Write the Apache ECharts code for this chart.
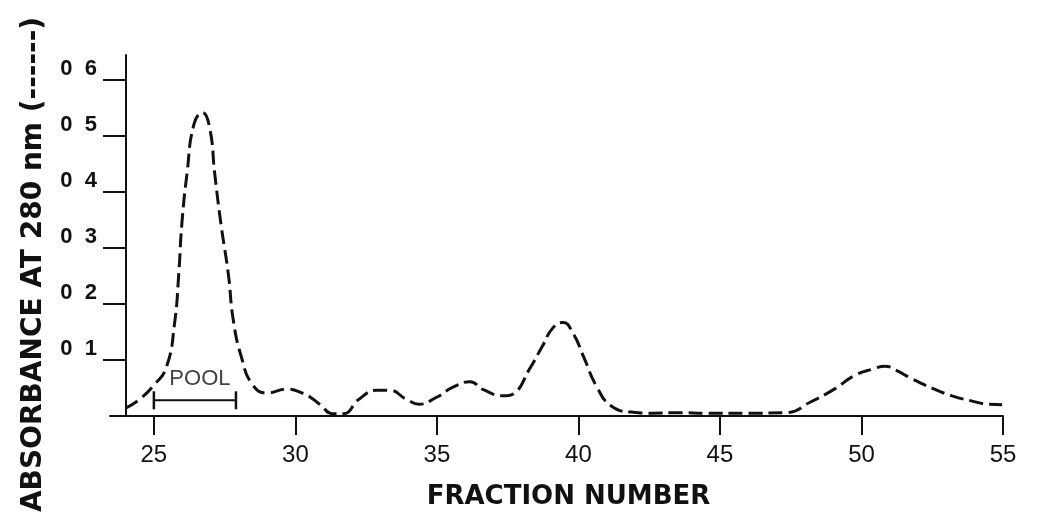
<!DOCTYPE html>
<html>
<head>
<meta charset="utf-8">
<script src="https://cdn.jsdelivr.net/npm/echarts@6/dist/echarts.min.js"></script>
<style>
  html, body { margin: 0; padding: 0; background: #ffffff; }
  #chart { width: 1038px; height: 528px; }
</style>
</head>
<body>
<div id="chart"></div>
<script>
// Elution profile: absorbance at 280 nm per collected fraction
const fraction = [24.0, 24.5, 25.0, 25.44, 25.73, 25.88, 25.99, 26.17, 26.42, 26.72, 26.97, 27.15, 27.37, 27.63, 27.81, 28.10, 28.47, 28.98, 29.71, 30.29, 30.63, 30.87, 31.33, 31.68, 32.27, 32.87, 33.32, 33.92, 34.37, 34.97, 35.55, 36.17, 36.64, 37.37, 37.74, 38.25, 38.72, 39.09, 39.45, 39.82, 40.18, 40.65, 41.16, 41.88, 42.61, 43.55, 44.53, 46.0, 47.35, 48.2, 49.04, 49.78, 50.41, 50.83, 51.21, 51.80, 52.49, 53.20, 53.88, 54.47, 54.97];
const absorbance = [0.014, 0.030, 0.055, 0.087, 0.165, 0.255, 0.344, 0.433, 0.522, 0.542, 0.515, 0.433, 0.343, 0.254, 0.170, 0.104, 0.057, 0.041, 0.048, 0.040, 0.030, 0.0205, 0.004, 0.004, 0.031, 0.046, 0.046, 0.030, 0.021, 0.033, 0.051, 0.061, 0.047, 0.036, 0.041, 0.082, 0.124, 0.157, 0.167, 0.147, 0.106, 0.052, 0.018, 0.007, 0.005, 0.006, 0.005, 0.005, 0.006, 0.025, 0.048, 0.073, 0.084, 0.089, 0.082, 0.066, 0.050, 0.036, 0.027, 0.021, 0.020];

// Axis ticks
const xTickValues = [25, 30, 35, 40, 45, 50, 55];
const xTickLabels = ['25', '30', '35', '40', '45', '50', '55'];
const yTickValues = [0.1, 0.2, 0.3, 0.4, 0.5, 0.6];
const yTickLabels = ['0  1', '0  2', '0  3', '0  4', '0  5', '0  6'];

// Pooled fractions
const poolRange = [25, 27.9];
const poolLevel = 0.028;
const poolLabel = 'POOL';

const xTitle = 'FRACTION NUMBER';
const yTitle = 'ABSORBANCE AT 280 nm (------)';

const ink = '#111111';
const curve = fraction.map((f, i) => [f, absorbance[i]]);
const poolLine = poolRange.map(f => [f, poolLevel]);
const poolMid = [(poolRange[0] + poolRange[1]) / 2, poolLevel];

const chart = echarts.init(document.getElementById('chart'), null, { renderer: 'canvas' });
chart.setOption({
  backgroundColor: '#ffffff',
  animation: false,
  grid: { left: 110, right: 35, top: 55, bottom: 112 },
  xAxis: {
    type: 'value',
    min: 23.45,
    max: 55,
    splitLine: { show: false },
    axisLine: { lineStyle: { color: ink, width: 2 } },
    axisTick: {
      customValues: xTickValues,
      length: 19,
      lineStyle: { color: ink, width: 2 }
    },
    axisLabel: {
      customValues: xTickValues,
      formatter: v => xTickLabels[xTickValues.indexOf(v)] || '',
      margin: 27,
      color: ink,
      fontFamily: 'Liberation Sans, Arial, sans-serif',
      fontSize: 24
    },
    name: xTitle,
    nameLocation: 'middle',
    nameGap: 68,
    nameTextStyle: {
      color: ink,
      fontFamily: 'DejaVu Sans, sans-serif',
      fontWeight: 'bold',
      fontSize: 26,
      padding: [0, 0, 0, 24]
    }
  },
  yAxis: {
    type: 'value',
    min: 0,
    max: 0.645,
    offset: -16,
    splitLine: { show: false },
    axisLine: { lineStyle: { color: ink, width: 2 } },
    axisTick: {
      customValues: yTickValues,
      length: 23,
      lineStyle: { color: ink, width: 2 }
    },
    axisLabel: {
      customValues: yTickValues,
      formatter: v => yTickLabels[Math.round(v * 10) - 1] || '',
      margin: 29,
      verticalAlign: 'bottom',
      color: ink,
      fontFamily: 'Liberation Sans, Arial, sans-serif',
      fontWeight: 'bold',
      fontSize: 22
    },
    name: yTitle,
    nameLocation: 'middle',
    nameRotate: 90,
    nameGap: 78,
    nameTextStyle: {
      color: ink,
      fontFamily: 'DejaVu Sans, sans-serif',
      fontWeight: 'bold',
      fontSize: 28,
      padding: [0, 58, 0, 0]
    }
  },
  series: [
    {
      name: 'A280',
      type: 'line',
      data: curve,
      smooth: 0.5,
      symbol: 'none',
      lineStyle: { color: ink, width: 3, type: [14, 6] },
      z: 3
    },
    {
      name: 'pool',
      type: 'line',
      data: poolLine,
      symbol: 'rect',
      symbolSize: [2.5, 18],
      showSymbol: true,
      itemStyle: { color: ink },
      lineStyle: { color: ink, width: 2 },
      z: 2
    },
    {
      name: 'poolLabel',
      type: 'scatter',
      data: [poolMid],
      symbolSize: 0,
      label: {
        show: true,
        position: 'inside',
        offset: [5, -21],
        formatter: poolLabel,
        color: ink,
        fontFamily: 'Liberation Sans, Arial, sans-serif',
        fontSize: 22
      },
      z: 4
    }
  ]
});
</script>
</body>
</html>
